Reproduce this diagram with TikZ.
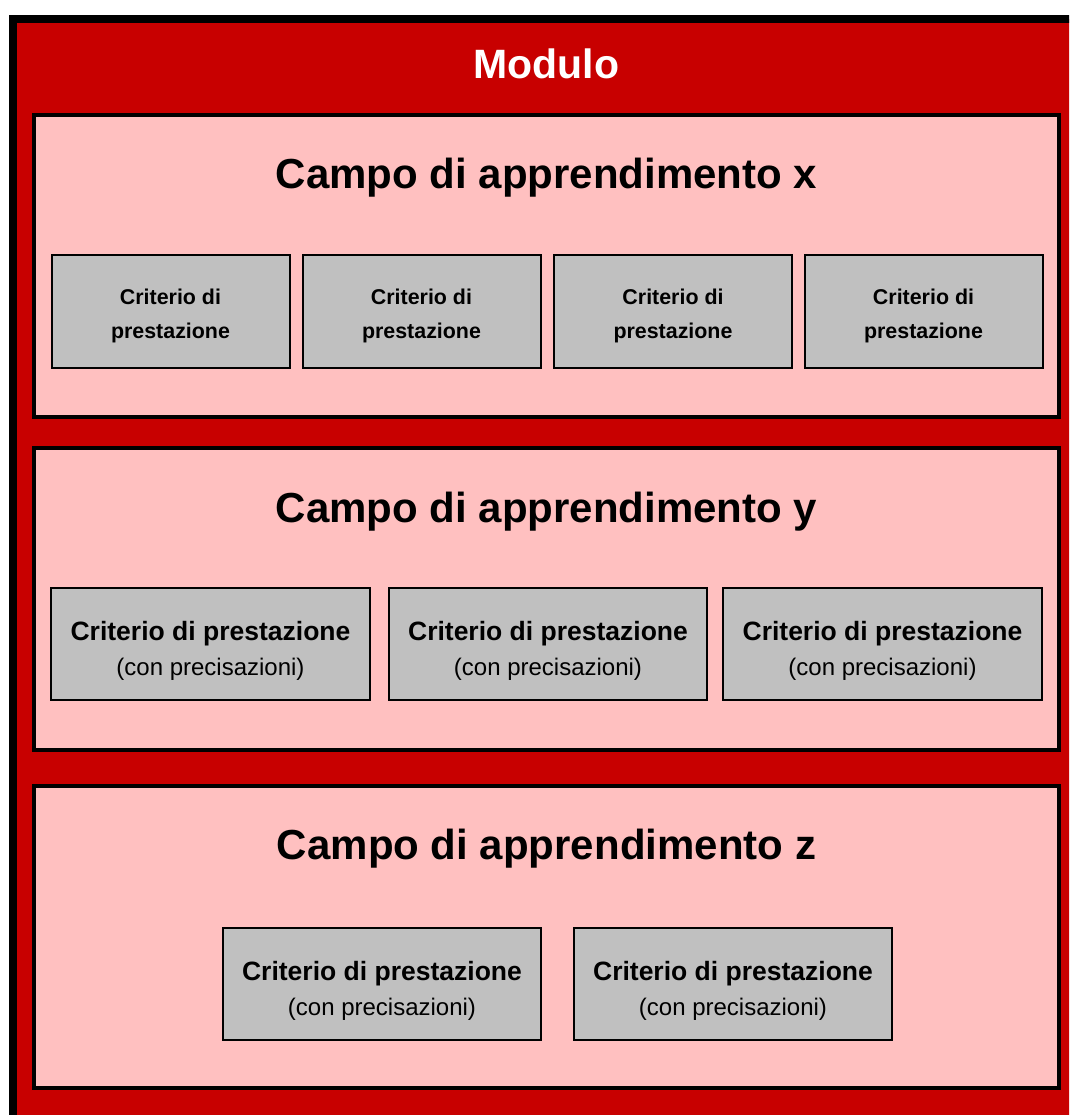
\documentclass[tikz,border=0pt]{standalone}
\usepackage{fontspec}
\setmainfont{Liberation Sans}
\usetikzlibrary{calc}
\definecolor{modred}{RGB}{200,0,0}
\definecolor{panelpink}{RGB}{255,192,192}
\definecolor{boxgrey}{RGB}{192,192,192}
\begin{document}
\begin{tikzpicture}[x=1pt,y=-1pt,
  panel/.style={draw=black, fill=panelpink, line width=4pt, inner sep=0pt, outer sep=0pt,
                minimum width=1025pt, minimum height=302pt},
  crit/.style={draw=black, fill=boxgrey, line width=2pt, inner sep=0pt, outer sep=0pt},
  maintitle/.style={text=white, font=\fontsize{41}{49}\selectfont\bfseries, anchor=base, inner sep=0pt},
  paneltitle/.style={text=black, font=\fontsize{42}{50}\selectfont\bfseries, anchor=base, inner sep=0pt},
  smalltext/.style={font=\fontsize{21.4}{26}\selectfont\bfseries, anchor=base, inner sep=0pt},
  boldtext/.style={font=\fontsize{26.5}{32}\selectfont\bfseries, anchor=base, inner sep=0pt},
  regtext/.style={font=\fontsize{24}{29}\selectfont, anchor=base, inner sep=0pt}
]
\useasboundingbox (0,0) rectangle (1069,1115);
\clip (0,0) rectangle (1069,1115);
\draw[line width=8pt, fill=modred] (13,19) rectangle (1200,1250);
\node[maintitle] (modulo) at (546.5,79) {Modulo};

% Panel x
\node[panel] (px) at (546.5,266) {};
\node[paneltitle] (tx) at (546.5,189) {Campo di apprendimento x};
\foreach \i/\cx in {1/170.5, 2/421.5, 3/673, 4/923.5} {
  \node[crit, minimum width=238pt, minimum height=113pt] (bx\i) at (\cx,311.5) {};
  \node[smalltext] (bx\i a) at ($(bx\i.north)+(0,49)$) {Criterio di};
  \node[smalltext] (bx\i b) at ($(bx\i.north)+(0,83)$) {prestazione};
}

% Panel y
\node[panel] (py) at (546.5,599) {};
\node[paneltitle] (ty) at (546.5,522) {Campo di apprendimento y};
\foreach \i/\cx/\w in {1/210.5/319, 2/548/318, 3/882.5/319} {
  \node[crit, minimum width=\w pt, minimum height=112pt] (by\i) at (\cx,644) {};
  \node[boldtext] (by\i a) at ($(by\i.north)+(0,52)$) {Criterio di prestazione};
  \node[regtext] (by\i b) at ($(by\i.north)+(0,87)$) {(con precisazioni)};
}

% Panel z
\node[panel] (pz) at (546.5,937) {};
\node[paneltitle] (tz) at (546.5,859) {Campo di apprendimento z};
\foreach \i/\cx in {1/382, 2/733} {
  \node[crit, minimum width=318pt, minimum height=112pt] (bz\i) at (\cx,984) {};
  \node[boldtext] (bz\i a) at ($(bz\i.north)+(0,52)$) {Criterio di prestazione};
  \node[regtext] (bz\i b) at ($(bz\i.north)+(0,87)$) {(con precisazioni)};
}
\end{tikzpicture}
\end{document}
